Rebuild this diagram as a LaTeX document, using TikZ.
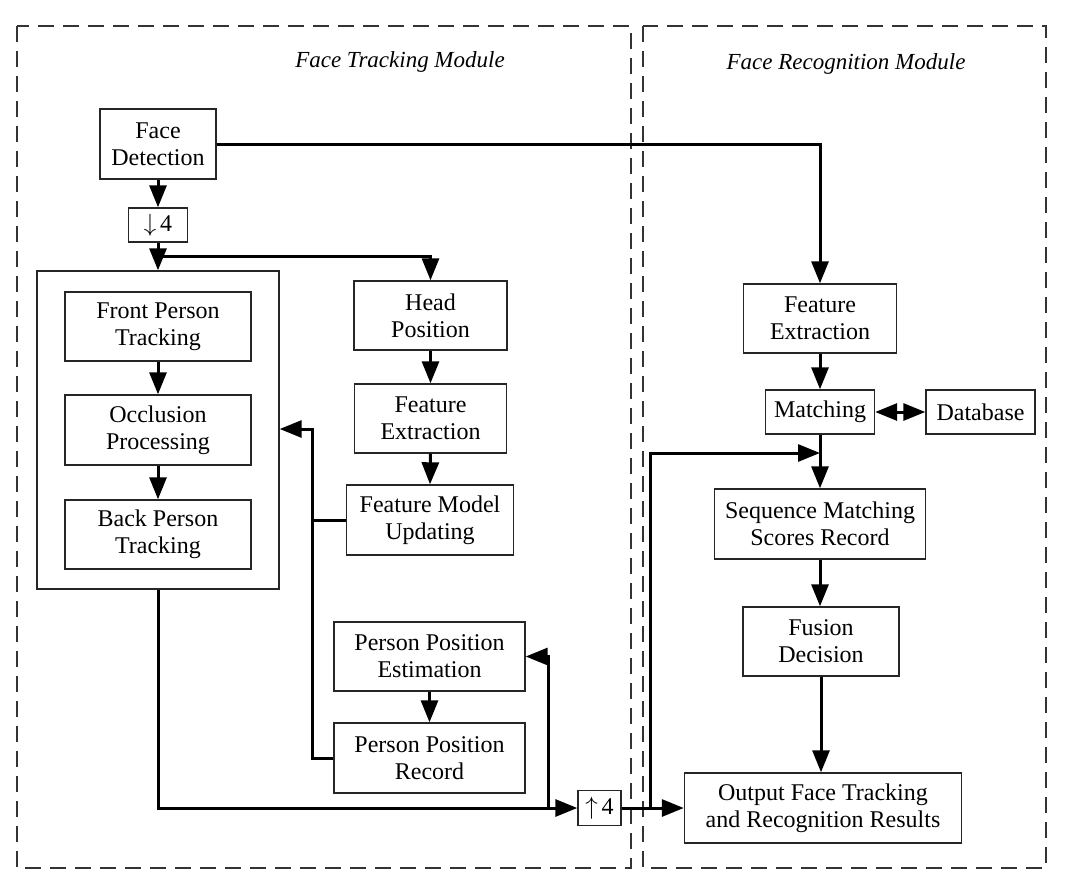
\documentclass[tikz,border=0pt]{standalone}
\usepackage{fontspec}
\setmainfont{Liberation Serif}
\usetikzlibrary{arrows.meta}
\begin{document}
\begin{tikzpicture}[x=1pt,y=-1pt,
 box/.style={draw=black!85,line width=1.4pt,inner sep=0pt,align=center,font=\fontsize{24}{27}\selectfont},
 tip/.tip={Triangle[length=22pt,width=17pt]},
 conn/.style={line width=3pt,-tip},
 ln/.style={line width=3pt},
 module/.style={draw=black!80,line width=1.4pt,dash pattern=on 16pt off 9pt},
 title/.style={font=\fontsize{23}{27}\selectfont\itshape}]
\useasboundingbox[fill=white] (0,0) rectangle (1070,892);
% modules
\draw[module] (17,26) rectangle (631,868);
\draw[module] (643,26) rectangle (1046,868);
\node[title] (t1) at (400,62) {Face Tracking Module};
\node[title] (t2) at (846,64) {Face Recognition Module};
% left nodes
\node[box,minimum width=116,minimum height=70] (fd) at (158,144) {Face\\Detection};
\node[box,minimum width=59,minimum height=34] (d4) at (158,225) {$\downarrow$\,4};
\node[box,minimum width=242,minimum height=318] (big) at (158,430) {};
\node[box,minimum width=186,minimum height=69] (fpt) at (158,326.5) {Front Person\\Tracking};
\node[box,minimum width=186,minimum height=70] (op) at (158,430) {Occlusion\\Processing};
\node[box,minimum width=186,minimum height=69] (bpt) at (158,534.5) {Back Person\\Tracking};
\node[box,minimum width=153,minimum height=69] (hp) at (430.5,315.5) {Head\\Position};
\node[box,minimum width=152,minimum height=69] (fe1) at (430.5,418.5) {Feature\\Extraction};
\node[box,minimum width=167,minimum height=70] (fmu) at (430,520) {Feature Model\\Updating};
\node[box,minimum width=191,minimum height=69] (ppe) at (429.5,656.5) {Person Position\\Estimation};
\node[box,minimum width=191,minimum height=70] (ppr) at (429.5,758) {Person Position\\Record};
\node[box,minimum width=43,minimum height=35] (u4) at (599.5,808) {$\uparrow$\,4};
% right nodes
\node[box,minimum width=153,minimum height=69] (fe2) at (820,318.5) {Feature\\Extraction};
\node[box,minimum width=109,minimum height=44] (mat) at (820,412) {Matching};
\node[box,minimum width=109,minimum height=44] (db) at (980.5,412) {Database};
\node[box,minimum width=211,minimum height=70] (smsr) at (820,524) {Sequence Matching\\Scores Record};
\node[box,minimum width=156,minimum height=69] (fus) at (821,641.5) {Fusion\\Decision};
\node[box,minimum width=277,minimum height=70] (out) at (823,808) {Output Face Tracking\\and Recognition Results};
% coordinates
\coordinate (j1) at (158,256);
\coordinate (c1) at (312,429);
\coordinate (c2) at (548,808);
\coordinate (c3) at (650,808);
\coordinate (c4) at (650,453);
% connectors
\draw[conn] (fd.south) -- (d4.north);
\draw[conn] (d4.south) -- (big.north);
\draw[conn] (j1) -| (hp.north);
\draw[conn] (hp.south) -- (fe1.north);
\draw[conn] (fe1.south) -- (fmu.north);
\draw[conn] (fpt.south) -- (op.north);
\draw[conn] (op.south) -- (bpt.north);
\draw[conn] (ppe.south) -- (ppr.north);
\draw[conn] (ppr.west) -| (c1) -- (c1 -| big.east);
\draw[ln] (fmu.west) -- (fmu.west -| c1);
\draw[conn] (big.south) |- (u4.west);
\draw[conn] (c2) |- (ppe.east);
\draw[conn] (u4.east) -- (out.west);
\draw[conn] (c3) -- (c4) -- (c4 -| mat.south);
\draw[conn] (fd.east) -| (fe2.north);
\draw[conn] (fe2.south) -- (mat.north);
\draw[line width=3pt,tip-tip] (mat.east) -- (db.west);
\draw[conn] (mat.south) -- (smsr.north);
\draw[conn] (smsr.south) -- (smsr.south |- fus.north);
\draw[conn] (fus.south) -- (fus.south |- out.north);
\end{tikzpicture}
\end{document}
